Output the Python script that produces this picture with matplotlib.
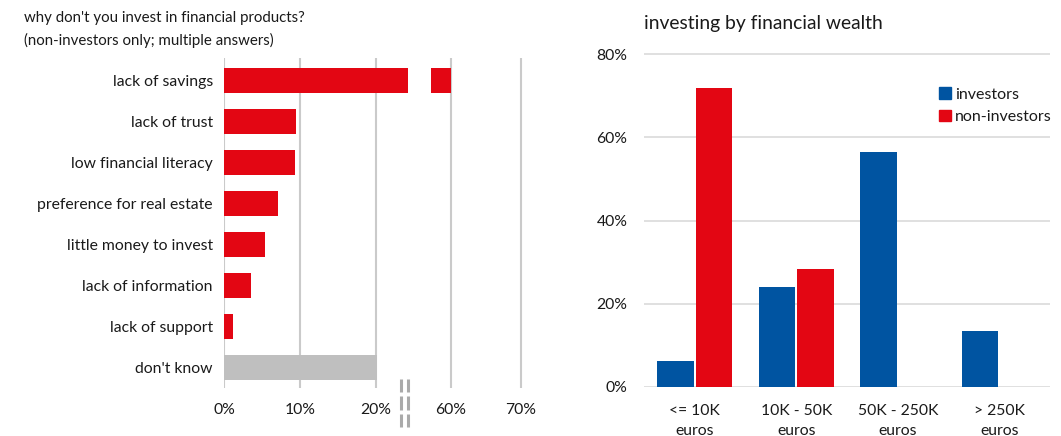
import matplotlib.pyplot as plt
from matplotlib.lines import Line2D
from matplotlib.patches import Patch

plt.rcParams['font.family'] = ['Lato', 'DejaVu Sans']

# left panel: reasons for not investing (% of non-investors)
reasons = ["lack of savings", "lack of trust", "low financial literacy",
           "preference for real estate", "little money to invest",
           "lack of information", "lack of support", "don't know"]
reason_values = [60.0, 9.5, 9.4, 7.1, 5.4, 3.6, 1.2, 20.1]
reason_colors = ["#E30613"] * 7 + ["#BFBFBF"]

# right panel: investing by financial wealth
wealth_cats = ["<= 10K\neuros", "10K - 50K\neuros", "50K - 250K\neuros", "> 250K\neuros"]
investors = [6.2, 24.0, 56.5, 13.5]
non_investors = [71.9, 28.4, 0, 0]

RED = "#E30613"
BLUE = "#0054A1"
GRID = "#CACACA"
TXT = "#1a1a1a"

W, H = 1061, 436
fig = plt.figure(figsize=(W / 100, H / 100), dpi=100)


def rect(x0, x1, ytop, ybot):
    return [x0 / W, 1 - ybot / H, (x1 - x0) / W, (ybot - ytop) / H]


ypos = list(range(len(reasons)))

# broken axis: two pieces
ax1 = fig.add_axes(rect(224, 408, 58, 388))
ax2 = fig.add_axes(rect(431, 535, 58, 388))
for ax, lim, ticks in [(ax1, (0, 24.2), [0, 10, 20]), (ax2, (57.14, 72.0), [60, 70])]:
    ax.barh(ypos, reason_values, height=0.61, color=reason_colors, zorder=2)
    ax.set_xlim(*lim)
    ax.set_ylim(7.51, -0.54)
    ax.set_xticks(ticks)
    ax.set_xticklabels(["%d%%" % t for t in ticks])
    for t in ticks:
        ax.axvline(t, color=GRID, lw=1.5, zorder=1)
    for s in ax.spines.values():
        s.set_visible(False)
    ax.tick_params(axis='x', length=0, pad=11, labelsize=11.3, labelcolor=TXT)
    ax.set_facecolor('none')

ax1.set_yticks(ypos)
ax1.set_yticklabels(reasons)
ax1.tick_params(axis='y', length=0, pad=8, labelsize=11.3, labelcolor=TXT)
ax2.set_yticks([])

# break marks: three short segments per line
for xb in (401, 407.5):
    for y0, y1 in [(379, 392), (396, 410), (414, 427)]:
        fig.add_artist(Line2D([xb / W, xb / W], [1 - y0 / H, 1 - y1 / H],
                              transform=fig.transFigure, color="#AAAAAA", lw=2.2,
                              solid_capstyle='butt'))

fig.text(24 / W, 1 - 29.5 / H,
         "why don't you invest in financial products?\n(non-investors only; multiple answers)",
         ha='left', va='center', fontsize=10.8, color=TXT, linespacing=1.6)

# right panel
ax3 = fig.add_axes(rect(644, 1050, 50, 387))
x = range(len(wealth_cats))
ax3.bar([i - 0.19 for i in x], investors, width=0.36, color=BLUE, zorder=2, label="investors")
ax3.bar([i + 0.19 for i in x], non_investors, width=0.36, color=RED, zorder=2, label="non-investors")
ax3.set_xlim(-0.5, 3.5)
ax3.set_ylim(0, 81)
ax3.set_yticks([0, 20, 40, 60, 80])
ax3.set_yticklabels(["0%", "20%", "40%", "60%", "80%"])
ax3.set_xticks(list(x))
ax3.set_xticklabels(wealth_cats, linespacing=1.55)
ax3.grid(axis='y', color="#DADADA", lw=1.2, zorder=1)
ax3.set_axisbelow(True)
for s in ax3.spines.values():
    s.set_visible(False)
ax3.tick_params(axis='both', length=0, labelsize=11.3, labelcolor=TXT)
ax3.tick_params(axis='y', pad=12)
ax3.tick_params(axis='x', pad=12)

handles = [Patch(color=BLUE), Patch(color=RED)]
fig.legend(handles, ["investors", "non-investors"], loc='upper left',
           bbox_to_anchor=(925 / W, 1 - 73 / H), frameon=False, fontsize=11.5,
           handlelength=0.7, handleheight=0.7, handletextpad=0.3, labelspacing=0.5,
           labelcolor=TXT)

fig.text(644 / W, 1 - 24 / H, "investing by financial wealth", ha='left', va='center',
         fontsize=13.9, color=TXT)

fig.savefig("out.png", dpi=100)
